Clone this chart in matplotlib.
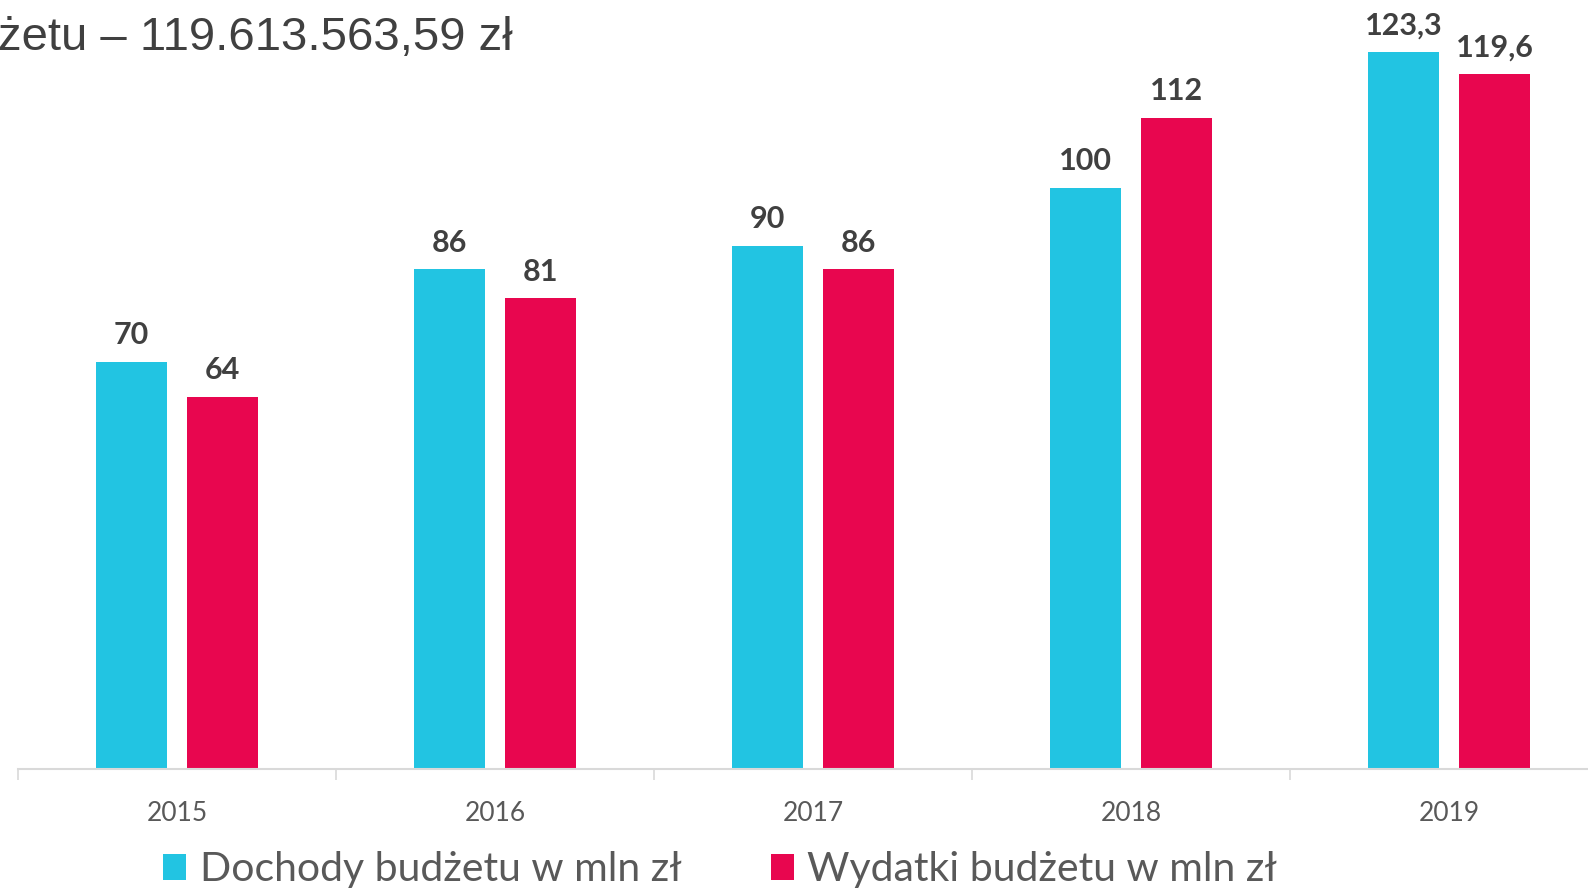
import matplotlib
matplotlib.use("Agg")
import matplotlib.pyplot as plt
import numpy as np

years = ["2015", "2016", "2017", "2018", "2019"]
dochody = [70, 86, 90, 100, 123.3]
wydatki = [64, 81, 86, 112, 119.6]
dochody_labels = ["70", "86", "90", "100", "123,3"]
wydatki_labels = ["64", "81", "86", "112", "119,6"]
series_names = ["Dochody budżetu w mln zł", "Wydatki budżetu w mln zł"]
title_text = "żetu – 119.613.563,59 zł"

CYAN = "#22C4E2"
RED = "#E8064F"
DARK = "#404040"
GREY = "#595959"
FONT = ["Lato", "DejaVu Sans"]

W, H = 1588, 891
fig = plt.figure(figsize=(W / 100, H / 100), dpi=100)
ax_left = 18.2 / W
ax_bottom = (H - 768.7) / H
ax = fig.add_axes([ax_left, ax_bottom, 1 - ax_left, 1 - ax_bottom])

x = np.arange(len(years))
bw = 0.223
off = 0.1434
b1 = ax.bar(x - off, dochody, bw, color=CYAN, label=series_names[0], zorder=2)
b2 = ax.bar(x + off, wydatki, bw, color=RED, label=series_names[1], zorder=2)

for rects, labs in ((b1, dochody_labels), (b2, wydatki_labels)):
    for r, t in zip(rects, labs):
        ax.annotate(t, (r.get_x() + r.get_width() / 2, r.get_height()),
                    xytext=(0, 9), textcoords="offset points", ha="center", va="bottom",
                    fontsize=22, fontweight="bold", color=DARK, family=FONT)

for s in ("top", "right", "left"):
    ax.spines[s].set_visible(False)
ax.spines["bottom"].set_color("#D9D9D9")
ax.spines["bottom"].set_linewidth(1.5)
ax.set_yticks([])
ax.set_xticks(np.arange(len(years) + 1) - 0.5)
ax.set_xticklabels([])
ax.tick_params(axis="x", length=8, width=1.2, color="#D9D9D9")
ax.set_xticks(x, minor=True)
ax.set_xticklabels(years, minor=True)
ax.tick_params(axis="x", which="minor", length=0, pad=23, labelsize=19, labelcolor=GREY)
for lbl in ax.get_xticklabels(minor=True):
    lbl.set_family(FONT)

ax.set_xlim(-0.5, -0.5 + (W - 18.2) / 318.0)
ax.set_ylim(0, 768.7 / 5.81)

fig.text(-2 / W, 1 - 50 / H, title_text, ha="left", va="baseline",
         fontsize=34, color=DARK, family=["Liberation Sans", "DejaVu Sans"])

leg = fig.legend(handles=[b1, b2], loc="center", bbox_to_anchor=(720 / W, (H - 870) / H),
                 ncol=2, frameon=False, handlelength=0.57, handleheight=0.57,
                 handletextpad=0.33, columnspacing=2.18, borderpad=0,
                 prop={"family": FONT, "size": 29.5})
for t in leg.get_texts():
    t.set_color(GREY)

fig.savefig("out.png", dpi=100)
